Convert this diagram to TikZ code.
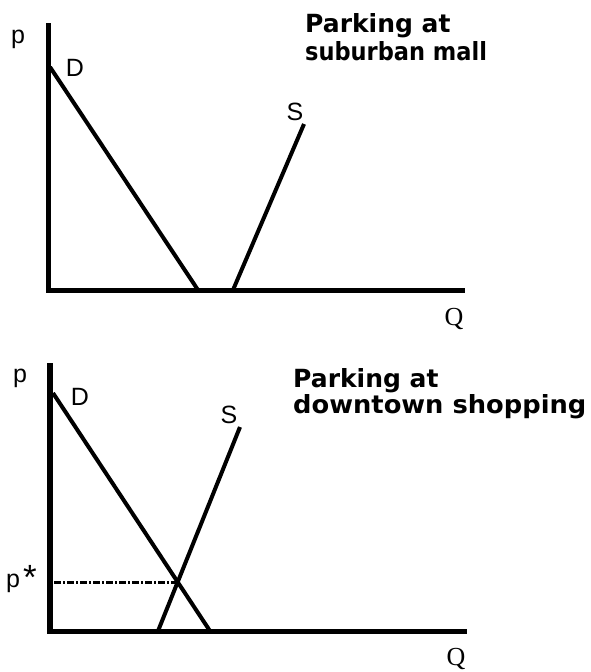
\documentclass[tikz,border=0pt]{standalone}
\usepackage{fontspec}
\usepackage{graphicx}
\setmainfont{Liberation Sans}
\newfontfamily\titlefont{DejaVu Sans Bold}
\newfontfamily\qfont{Liberation Serif}
\begin{document}
\begin{tikzpicture}[x=1pt,y=-1pt,
  axis/.style={line width=5.5pt, line join=miter},
  curve/.style={line width=4pt},
  pstarline/.style={line width=3pt, dash pattern=on 7pt off 2pt on 2pt off 2pt},
  lbl/.style={inner sep=0pt, anchor=base, font=\fontsize{25}{25}\selectfont},
  qlbl/.style={inner sep=0pt, anchor=base, font=\qfont\fontsize{26}{26}\selectfont},
  ttl/.style={inner sep=0pt, anchor=base west, font=\titlefont\fontsize{25}{25}\selectfont}]
\useasboundingbox (0,0) rectangle (590,672);
% ---------- top graph ----------
\coordinate (ta1) at (48.5,23);
\coordinate (ta0) at (48.5,290.5);
\coordinate (ta2) at (465,290.5);
\draw[axis] (ta1) -- (ta0) -- (ta2);
\coordinate (tD1) at (50,67);
\coordinate (tD2) at (198,290);
\coordinate (tS1) at (304,124);
\coordinate (tS2) at (233,290);
\draw[curve] (tD1) -- (tD2);
\draw[curve] (tS1) -- (tS2);
\node[lbl] (tp) at (18,43) {p};
\node[lbl] (tDl) at (75,76) {D};
\node[lbl] (tSl) at (295,120) {S};
\node[qlbl] (tQ) at (454,325) {Q};
\node[ttl] (tt1) at (305,32) {Parking at};
\node[ttl] (tt2) at (305,60) {\scalebox{0.9}[1]{suburban mall}};
% ---------- bottom graph ----------
\coordinate (ba1) at (50,363);
\coordinate (ba0) at (50,631.5);
\coordinate (ba2) at (467,631.5);
\draw[axis] (ba1) -- (ba0) -- (ba2);
\coordinate (bD1) at (53,393);
\coordinate (bD2) at (210,631);
\coordinate (bS1) at (240,427);
\coordinate (bS2) at (158,631);
\draw[curve] (bD1) -- (bD2);
\draw[curve] (bS1) -- (bS2);
\coordinate (eq) at (intersection of bD1--bD2 and bS1--bS2);
\coordinate (eqax) at (eq -| ba0);
\draw[pstarline] ([xshift=4pt]eqax) -- (eq);
\node[lbl] (bp) at (20,382) {p};
\node[lbl] (bDl) at (80,405) {D};
\node[lbl] (bSl) at (229,423) {S};
\node[lbl, anchor=base west] (pstar) at (6,587) {p\kern3pt\raisebox{-2pt}{\scalebox{1.4}{*}}};
\node[qlbl] (bQ) at (456,665) {Q};
\node[ttl] (bt1) at (293,387) {Parking at};
\node[ttl] (bt2) at (293,413) {\scalebox{1.03}[1]{downtown shopping}};
\end{tikzpicture}
\end{document}
